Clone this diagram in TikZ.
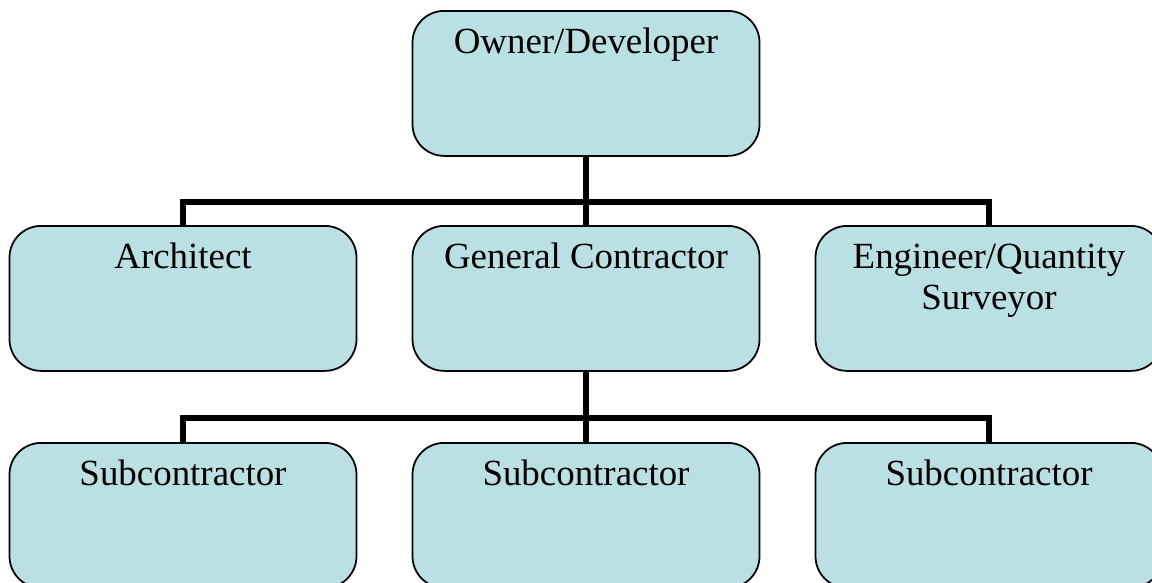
\documentclass[tikz,border=0pt]{standalone}
\usepackage{fontspec}
\setmainfont{Liberation Serif}
\definecolor{boxfill}{RGB}{187,224,227}
\begin{document}
\begin{tikzpicture}
    % picture frame, same proportions as the chart
    \clip (0,0) rectangle (11.52,-5.82);

    \tikzset{
      orgbox/.style={draw=black, line width=0.5pt, fill=boxfill, rounded corners=9pt,
        minimum width=3.47cm, inner xsep=2pt, inner ysep=0pt, text height=0.43cm, text depth=1.02cm,
        align=center, anchor=north, font=\fontsize{10.5}{11.7}\selectfont},
      twoline/.style={text height=0.84cm, text depth=0.61cm},
      bus/.style={line width=0.06cm, line join=miter}
    }

    % top level
    \node[orgbox] (owner) at (5.86,-0.10) {Owner/Developer};

    % second level
    \node[orgbox] (arch) at (1.83,-2.25) {Architect};
    \node[orgbox] (gc) at (5.86,-2.25) {General Contractor};
    \node[orgbox, twoline] (eng) at (9.89,-2.25) {Engineer/Quantity\\Surveyor};

    % third level
    \node[orgbox] (subA) at (1.83,-4.42) {Subcontractor};
    \node[orgbox] (subB) at (5.86,-4.42) {Subcontractor};
    \node[orgbox] (subC) at (9.89,-4.42) {Subcontractor};

    % bus lines
    \coordinate (topbus) at (5.86,-2.02);
    \coordinate (lowbus) at (5.86,-4.18);

    \draw[bus] (owner.south) -- (topbus);
    \draw[bus] (arch.north) |- (topbus) -| (eng.north);
    \draw[bus] (topbus) -- (gc.north);

    \draw[bus] (gc.south) -- (lowbus);
    \draw[bus] (subA.north) |- (lowbus) -| (subC.north);
    \draw[bus] (lowbus) -- (subB.north);
\end{tikzpicture}
\end{document}
